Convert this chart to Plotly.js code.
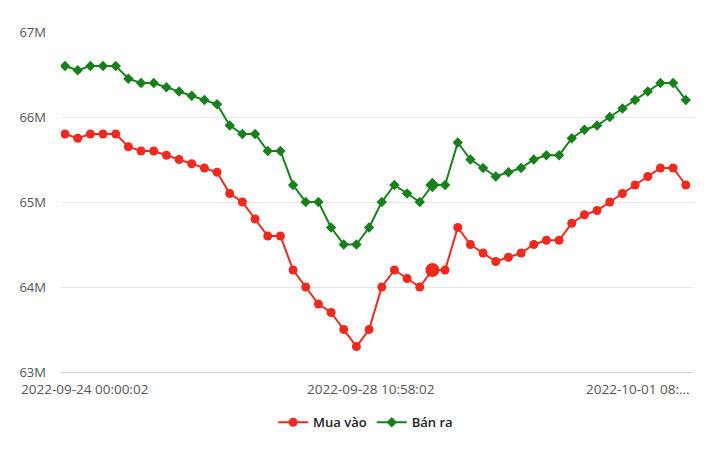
<!DOCTYPE html>
<html>
<head>
<meta charset="utf-8">
<script src="https://cdn.plot.ly/plotly-3.0.1.min.js"></script>
<style>html,body{margin:0;padding:0;background:#fff;}#chart{width:720px;height:450px;}</style>
</head>
<body>
<div id="chart"></div>
<script>
// Data (VND)
const buyValues = [65.8, 65.75, 65.8, 65.8, 65.8, 65.65, 65.6, 65.6, 65.55, 65.5, 65.45, 65.4, 65.35, 65.1, 65.0, 64.8, 64.6, 64.6, 64.2, 64.0, 63.8, 63.7, 63.5, 63.3, 63.5, 64.0, 64.2, 64.1, 64.0, 64.2, 64.2, 64.7, 64.5, 64.4, 64.3, 64.35, 64.4, 64.5, 64.55, 64.55, 64.75, 64.85, 64.9, 65.0, 65.1, 65.2, 65.3, 65.4, 65.4, 65.2].map(v => Math.round(v * 1e6));
const sellValues = [66.6, 66.55, 66.6, 66.6, 66.6, 66.45, 66.4, 66.4, 66.35, 66.3, 66.25, 66.2, 66.15, 65.9, 65.8, 65.8, 65.6, 65.6, 65.2, 65.0, 65.0, 64.7, 64.5, 64.5, 64.7, 65.0, 65.2, 65.1, 65.0, 65.2, 65.2, 65.7, 65.5, 65.4, 65.3, 65.35, 65.4, 65.5, 65.55, 65.55, 65.75, 65.85, 65.9, 66.0, 66.1, 66.2, 66.3, 66.4, 66.4, 66.2].map(v => Math.round(v * 1e6));
const seriesNames = ['Mua vào', 'Bán ra'];
const xLabelText = ['2022-09-24 00:00:02', '2022-09-28 10:58:02', '2022-10-01 08:...'];
const xLabelIndex = [0, 24, 49];
const yTickValues = [63e6, 64e6, 65e6, 66e6, 67e6];
const yTickText = ['63M', '64M', '65M', '66M', '67M'];
const hoverIndex = 29;

const xIdx = buyValues.map((_, i) => i);
const red = '#ee2a1f', green = '#17801a';

const traces = [
  {
    x: xIdx, y: buyValues, name: seriesNames[0], type: 'scatter', mode: 'lines+markers',
    line: {color: red, width: 2},
    marker: {color: red, symbol: 'circle', opacity: 1, line: {width: 0},
             size: xIdx.map(i => i === hoverIndex ? 14 : 9)}
  },
  {
    x: xIdx, y: sellValues, name: seriesNames[1], type: 'scatter', mode: 'lines+markers',
    line: {color: green, width: 2},
    marker: {color: green, symbol: 'diamond', opacity: 1, line: {width: 0},
             size: xIdx.map(i => i === hoverIndex ? 11 : 8)}
  }
];

const font = 'Open Sans, DejaVu Sans, sans-serif';
const anchors = ['left', 'center', 'right'];
const shifts = [-46, 1, 6];
const annotations = xLabelText.map((t, k) => ({
  x: xLabelIndex[k], y: 0, xref: 'x', yref: 'paper', yanchor: 'top', yshift: -6,
  xanchor: anchors[k], xshift: shifts[k], text: t, showarrow: false,
  font: {family: font, size: 13.5, color: '#555555'}
}));

const layout = {
  width: 720, height: 450,
  margin: {l: 61, r: 27, t: 32, b: 78, autoexpand: false},
  paper_bgcolor: '#ffffff', plot_bgcolor: '#ffffff',
  showlegend: true,
  legend: {orientation: 'h', x: 0.482, xanchor: 'center', y: -0.104, yanchor: 'top',
           font: {family: font, size: 13, color: '#222222', weight: 600}, itemwidth: 30},
  xaxis: {range: [-0.32, 49.57], showgrid: false, zeroline: false, showticklabels: false,
          showline: true, linecolor: '#ccd6eb', linewidth: 1, ticks: ''},
  yaxis: {range: [63e6, 67e6], tickvals: yTickValues, ticktext: yTickText,
          showgrid: true, gridcolor: '#e6e6e6', gridwidth: 1, zeroline: false,
          ticks: '', ticklabelstandoff: 14,
          tickfont: {family: font, size: 13, color: '#555555'}},
  annotations: annotations,
  hovermode: false
};

Plotly.newPlot('chart', traces, layout, {displayModeBar: false, staticPlot: true});
</script>
</body>
</html>
